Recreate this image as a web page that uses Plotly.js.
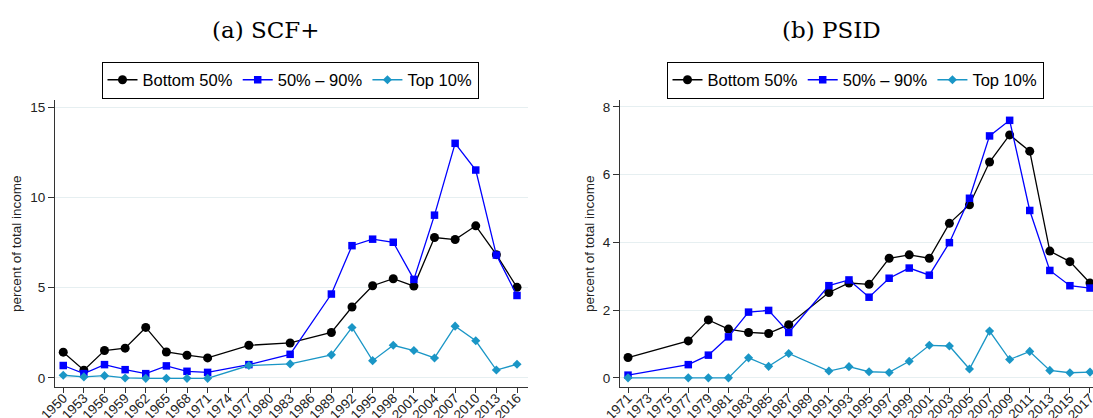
<!DOCTYPE html>
<html>
<head>
<meta charset="utf-8">
<script src="https://cdn.plot.ly/plotly-3.0.1.min.js"></script>
<style>html,body{margin:0;padding:0;background:#fff;}#chart{width:1093px;height:418px;}</style>
</head>
<body>
<div id="chart"></div>
<script>
// ---- Data: (a) SCF+ ----
const yearsSCF = [1950,1953,1956,1959,1962,1965,1968,1971,1977,1983,1989,1992,1995,1998,2001,2004,2007,2010,2013,2016];
const bottom50SCF = [1.43,0.43,1.52,1.65,2.80,1.44,1.26,1.11,1.81,1.94,2.52,3.93,5.11,5.50,5.09,7.78,7.67,8.43,6.83,5.02];
const mid40SCF    = [0.69,0.24,0.74,0.46,0.24,0.67,0.37,0.31,0.74,1.31,4.65,7.33,7.69,7.52,5.46,9.02,13.0,11.52,6.81,4.57];
const top10SCF    = [0.15,0.06,0.13,0.00,-0.02,-0.02,-0.02,-0.02,0.69,0.78,1.28,2.80,0.96,1.81,1.52,1.11,2.87,2.06,0.44,0.76];
const ticksSCF = [1950,1953,1956,1959,1962,1965,1968,1971,1974,1977,1980,1983,1986,1989,1992,1995,1998,2001,2004,2007,2010,2013,2016];

// ---- Data: (b) PSID ----
const yearsPSID = [1971,1977,1979,1981,1983,1985,1987,1991,1993,1995,1997,1999,2001,2003,2005,2007,2009,2011,2013,2015,2017];
const bottom50PSID = [0.60,1.09,1.71,1.44,1.34,1.31,1.57,2.52,2.80,2.76,3.53,3.63,3.53,4.56,5.11,6.37,7.17,6.69,3.74,3.43,2.80];
const mid40PSID    = [0.08,0.39,0.67,1.21,1.94,1.99,1.34,2.72,2.89,2.38,2.94,3.24,3.03,3.99,5.30,7.14,7.60,4.94,3.17,2.72,2.65];
const top10PSID    = [0.00,0.00,0.00,0.00,0.59,0.34,0.72,0.20,0.33,0.18,0.16,0.49,0.96,0.94,0.26,1.38,0.54,0.78,0.22,0.15,0.17];
const ticksPSID = [1971,1973,1975,1977,1979,1981,1983,1985,1987,1989,1991,1993,1995,1997,1999,2001,2003,2005,2007,2009,2011,2013,2015,2017];

const seriesNames = ['Bottom 50%', '50% \u2013 90%', 'Top 10%'];
const titles = ['(a) SCF+', '(b) PSID'];
const yTitle = 'percent of total income';

const colors = ['#000000', '#0000ff', '#1a96c6'];
const symbols = ['circle', 'square', 'diamond'];
const sizes = [9, 7.5, 7];

function mk(x, y, i, xa, ya, leg) {
  return {
    x: x, y: y, type: 'scatter', mode: 'lines+markers',
    name: seriesNames[i], xaxis: xa, yaxis: ya, legend: leg,
    line: {color: colors[i], width: 1.3},
    marker: {color: colors[i], symbol: symbols[i], size: sizes[i]},
    cliponaxis: false
  };
}

const traces = [
  mk(yearsSCF, bottom50SCF, 0, 'x', 'y', 'legend'),
  mk(yearsSCF, mid40SCF, 1, 'x', 'y', 'legend'),
  mk(yearsSCF, top10SCF, 2, 'x', 'y', 'legend'),
  mk(yearsPSID, bottom50PSID, 0, 'x2', 'y2', 'legend2'),
  mk(yearsPSID, mid40PSID, 1, 'x2', 'y2', 'legend2'),
  mk(yearsPSID, top10PSID, 2, 'x2', 'y2', 'legend2')
];

const W = 1093, H = 418;
const yDom = [(H - 387) / H, (H - 100) / H];
const sans = 'Liberation Sans, Arial, sans-serif';

function xAxis(dom, range, ticks) {
  return {
    domain: dom, range: range, tickmode: 'array', tickvals: ticks, ticktext: ticks.map(String),
    tickangle: -45, tickfont: {family: sans, size: 13.5, color: '#222'},
    ticklabeloverflow: 'allow', ticklabelstandoff: -8,
    showgrid: false, zeroline: false, showline: true, linecolor: '#333', linewidth: 1,
    ticks: 'outside', ticklen: 5, tickcolor: '#333', fixedrange: true
  };
}
function yAxis(anchor, range, ticks) {
  return {
    domain: yDom, anchor: anchor, range: range, tickmode: 'array', tickvals: ticks,
    tickfont: {family: sans, size: 13.5, color: '#222'}, showgrid: true, gridcolor: '#e6eff1', gridwidth: 1,
    zeroline: false, showline: true, linecolor: '#333', linewidth: 1,
    ticks: 'outside', ticklen: 6, tickcolor: '#333', fixedrange: true
  };
}

const legendBase = {
  orientation: 'h', xref: 'paper', yref: 'paper', xanchor: 'center', yanchor: 'middle',
  bordercolor: '#000', borderwidth: 1, bgcolor: '#fff',
  font: {family: sans, size: 16.5, color: '#000'},
  itemwidth: 30, tracegroupgap: 0
};

const titleFont = {family: 'DejaVu Serif, Liberation Serif, serif', size: 23, color: '#000'};
const yTitleFont = {family: sans, size: 13.5, color: '#222'};

const layout = {
  width: W, height: H, margin: {l: 0, r: 0, t: 0, b: 0},
  paper_bgcolor: '#fff', plot_bgcolor: '#fff',
  xaxis: Object.assign(xAxis([55 / W, 528 / W], [1948.8, 2017.6], ticksSCF), {anchor: 'y'}),
  yaxis: yAxis('x', [-0.5, 15.4], [0, 5, 10, 15]),
  xaxis2: Object.assign(xAxis([620 / W, 1], [1970.2, 2017.3], ticksPSID), {anchor: 'y2'}),
  yaxis2: yAxis('x2', [-0.27, 8.2], [0, 2, 4, 6, 8]),
  legend: Object.assign({}, legendBase, {x: 290 / W, y: (H - 80) / H}),
  legend2: Object.assign({}, legendBase, {x: 855 / W, y: (H - 80) / H}),
  annotations: [
    {text: titles[0], xref: 'paper', yref: 'paper', x: 266 / W, y: (H - 30) / H, xanchor: 'center', yanchor: 'middle',
     showarrow: false, font: titleFont},
    {text: titles[1], xref: 'paper', yref: 'paper', x: 831 / W, y: (H - 30) / H, xanchor: 'center', yanchor: 'middle',
     showarrow: false, font: titleFont},
    {text: yTitle, xref: 'paper', yref: 'paper', x: 17 / W, y: (H - 244) / H, xanchor: 'center', yanchor: 'middle',
     showarrow: false, textangle: -90, font: yTitleFont},
    {text: yTitle, xref: 'paper', yref: 'paper', x: 590 / W, y: (H - 244) / H, xanchor: 'center', yanchor: 'middle',
     showarrow: false, textangle: -90, font: yTitleFont}
  ],
  showlegend: true
};

Plotly.newPlot('chart', traces, layout, {displayModeBar: false, staticPlot: true});
</script>
</body>
</html>
